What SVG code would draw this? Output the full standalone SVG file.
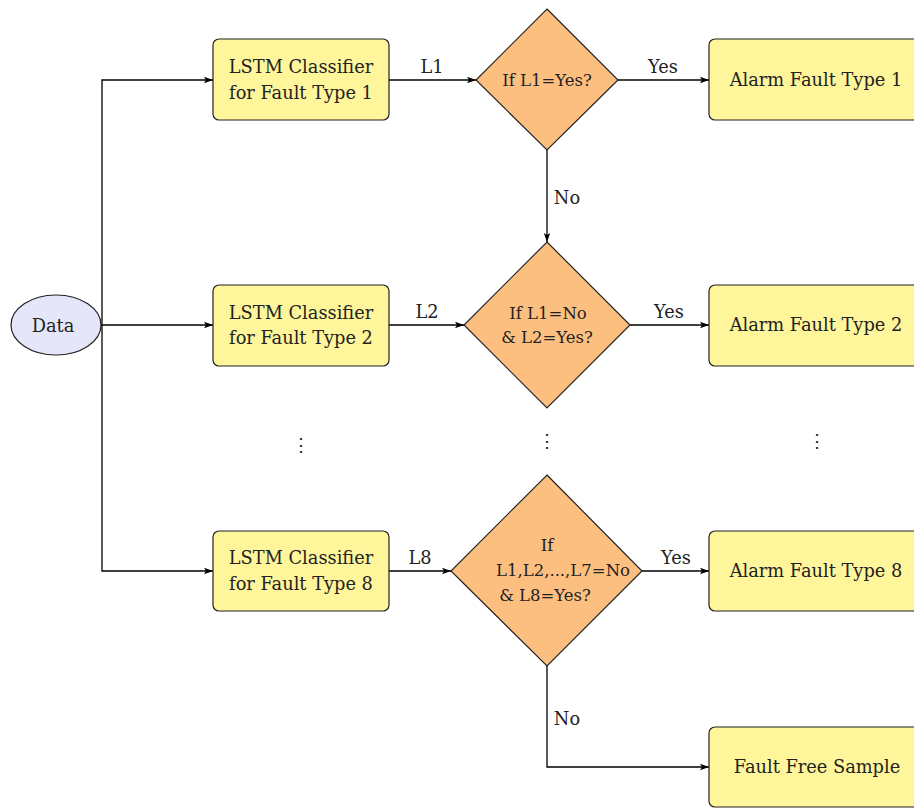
<svg xmlns="http://www.w3.org/2000/svg" width="914" height="808" viewBox="0 0 914 808">
<defs>
<marker id="arr" markerWidth="10" markerHeight="8" refX="9" refY="4" orient="auto" markerUnits="userSpaceOnUse">
<path d="M0,0.8 L9,4 L0,7.2 L2,4 Z" fill="#000"/>
</marker>
<style>
text{font-family:"DejaVu Serif",serif;fill:#222;text-anchor:middle;dominant-baseline:central}
.box{fill:#FFF59A;stroke:#222;stroke-width:1.2}
.dia{fill:#FDBF80;stroke:#222;stroke-width:1.2}
.t{font-size:17.8px}
.d{font-size:16.5px}
.l{font-size:17.8px}
.c{fill:none;stroke:#000;stroke-width:1.3}
</style>
</defs>
<rect width="914" height="808" fill="#fff"/>
<g id="connectors">
<path class="c" d="M102,325 V80 H213" marker-end="url(#arr)"/>
<path class="c" d="M101,325 H213" marker-end="url(#arr)"/>
<path class="c" d="M102,325 V571 H213" marker-end="url(#arr)"/>
<path class="c" d="M389,80 H476" marker-end="url(#arr)"/>
<path class="c" d="M389,325 H464" marker-end="url(#arr)"/>
<path class="c" d="M389,571 H451" marker-end="url(#arr)"/>
<path class="c" d="M618,80 H709" marker-end="url(#arr)"/>
<path class="c" d="M630,325 H709" marker-end="url(#arr)"/>
<path class="c" d="M642,571 H709" marker-end="url(#arr)"/>
<path class="c" d="M547,150 V242" marker-end="url(#arr)"/>
<path class="c" d="M547,666 V767 H709" marker-end="url(#arr)"/>
<text class="l" x="432" y="66">L1</text>
<text class="l" x="427" y="311">L2</text>
<text class="l" x="420" y="557">L8</text>
<text class="l" x="663" y="66">Yes</text>
<text class="l" x="669" y="311">Yes</text>
<text class="l" x="676" y="557">Yes</text>
<text class="l" x="567" y="197">No</text>
<text class="l" x="567" y="718">No</text>
</g>
<g id="data">
<ellipse cx="56" cy="325" rx="45" ry="30" fill="#E6E6FA" stroke="#222" stroke-width="1.2"/>
<text class="t" x="53" y="325">Data</text>
</g>
<g id="lstm1">
<rect class="box" x="213" y="39" width="176" height="81" rx="6"/>
<text class="t" x="301" y="66">LSTM Classifier</text>
<text class="t" x="301" y="92">for Fault Type 1</text>
</g>
<g id="lstm2">
<rect class="box" x="213" y="285" width="176" height="81" rx="6"/>
<text class="t" x="301" y="312">LSTM Classifier</text>
<text class="t" x="301" y="337">for Fault Type 2</text>
</g>
<g id="lstm8">
<rect class="box" x="213" y="531" width="176" height="80" rx="6"/>
<text class="t" x="301" y="557">LSTM Classifier</text>
<text class="t" x="301" y="583">for Fault Type 8</text>
</g>
<g id="dia1">
<polygon class="dia" points="547,9 618,80 547,150 476,80"/>
<text class="d" x="547" y="80">If L1=Yes?</text>
</g>
<g id="dia2">
<polygon class="dia" points="547,242 630,325 547,408 464,325"/>
<text class="d" x="548" y="313">If L1=No</text>
<text class="d" x="547" y="337">&amp; L2=Yes?</text>
</g>
<g id="dia8">
<polygon class="dia" points="547,475 642,571 547,666 451,571"/>
<text class="d" x="547" y="545">If</text>
<text class="d" x="563" y="570">L1,L2,...,L7=No</text>
<text class="d" x="545" y="595">&amp; L8=Yes?</text>
</g>
<g id="alarm1">
<rect class="box" x="709" y="39" width="215" height="81" rx="6"/>
<text class="t" x="816" y="79">Alarm Fault Type 1</text>
</g>
<g id="alarm2">
<rect class="box" x="709" y="285" width="215" height="81" rx="6"/>
<text class="t" x="816" y="324">Alarm Fault Type 2</text>
</g>
<g id="alarm8">
<rect class="box" x="709" y="531" width="215" height="80" rx="6"/>
<text class="t" x="816" y="570">Alarm Fault Type 8</text>
</g>
<g id="faultfree">
<rect class="box" x="709" y="727" width="215" height="80" rx="6"/>
<text class="t" x="817" y="766">Fault Free Sample</text>
</g>
<g id="ellipses">
<text class="t" x="301" y="444">⋮</text>
<text class="t" x="547" y="440">⋮</text>
<text class="t" x="817" y="440">⋮</text>
</g>
</svg>
